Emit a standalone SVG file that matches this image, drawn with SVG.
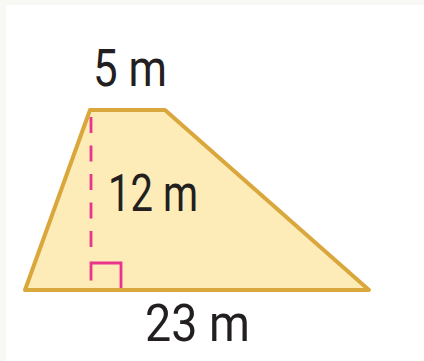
<svg xmlns="http://www.w3.org/2000/svg" width="424" height="361" viewBox="0 0 424 361">
  <style>
    .lbl { font-family: Roboto, "Liberation Sans", sans-serif; font-size: 52px; fill: #231f20; }
    .edge { fill: #fdebb8; stroke: #d9a73b; stroke-width: 4; stroke-linejoin: round; }
    .pink { fill: none; stroke: #e8348c; stroke-width: 2.8; }
  </style>
  <rect x="0" y="0" width="424" height="361" fill="#f8f8f4"/>
  <rect x="6" y="5" width="418" height="356" fill="#ffffff"/>
  <g id="trapezoid">
    <polygon class="edge" points="90,110 165,110 369,290 25,290"/>
  </g>
  <g id="height">
    <line class="pink" x1="91" y1="117" x2="91" y2="250" stroke-dasharray="16 12.5"/>
    <path class="pink" d="M91,280.5 V263 H121 V288"/>
  </g>
  <g id="labels">
    <text class="lbl" x="93" y="86" textLength="74" lengthAdjust="spacingAndGlyphs">5 m</text>
    <text class="lbl" x="108" y="211" textLength="90" lengthAdjust="spacingAndGlyphs">12 m</text>
    <text class="lbl" x="145" y="341" textLength="105" lengthAdjust="spacingAndGlyphs">23 m</text>
  </g>
</svg>
